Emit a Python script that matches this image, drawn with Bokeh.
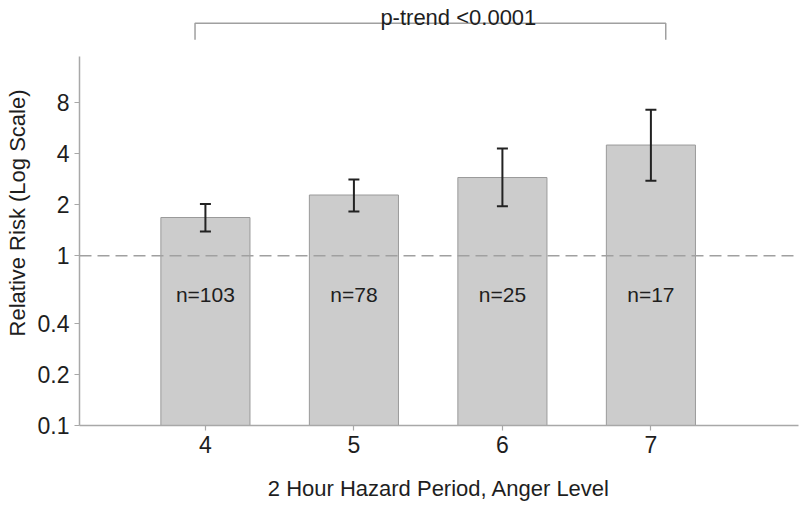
from bokeh.plotting import figure
from bokeh.models import ColumnDataSource, FixedTicker, Span, Whisker, TeeHead, Range1d
from bokeh.core.properties import value
from bokeh.embed import file_html
from bokeh.resources import INLINE

# ---- data ----
anger_levels = [4, 5, 6, 7]
relative_risk = [1.68, 2.28, 2.89, 4.49]
ci_lower = [1.39, 1.82, 1.96, 2.77]
ci_upper = [2.02, 2.81, 4.29, 7.25]
n_labels = ["n=103", "n=78", "n=25", "n=17"]
y_ticks = [0.1, 0.2, 0.4, 1, 2, 4, 8]
y_tick_labels = ["0.1", "0.2", "0.4", "1", "2", "4", "8"]
x_ticks = [4, 5, 6, 7]
x_tick_labels = ["4", "5", "6", "7"]
trend_text = "p-trend  <0.0001"
x_title = "2 Hour Hazard Period, Anger Level"
y_title = "Relative Risk (Log Scale)"

# ---- layout / style constants ----
FONT = "Liberation Sans"
TXT = "#1e1e1e"
AXC = "#a8a8a8"
n_label_y = 0.59
bracket_top = 23.4
bracket_bottom = 18.7
trend_y = 25.2
trend_x = 5.724

src = ColumnDataSource(dict(x=anger_levels, rr=relative_risk, lo=ci_lower,
                            hi=ci_upper, n=n_labels))

p = figure(width=800, height=509, output_backend="svg", toolbar_location=None,
           y_axis_type="log", x_range=Range1d(3.152, 7.994),
           y_range=Range1d(0.1, 31.9),
           min_border_left=79, min_border_right=2, min_border_top=0,
           min_border_bottom=84)
p.xgrid.visible = False
p.ygrid.visible = False
p.outline_line_color = None
p.background_fill_color = "white"
p.border_fill_color = "white"

p.vbar(x="x", top="rr", bottom=0.1, width=0.6, source=src,
       fill_color="#cccccc", line_color="#9a9a9a", line_width=1)

ref = Span(location=1, dimension="width", line_color="#a0a0a0",
           line_dash="12 6", line_width=1.5)
p.add_layout(ref)

wh = Whisker(base="x", upper="hi", lower="lo", source=src,
             line_color="#222222", line_width=2, level="overlay",
             upper_head=TeeHead(size=11, line_color="#222222", line_width=2),
             lower_head=TeeHead(size=11, line_color="#222222", line_width=2))
p.add_layout(wh)

p.text(x="x", y=n_label_y, text="n", source=src, text_align="center",
       text_baseline="middle", text_font=value(FONT), text_font_size="21px",
       text_color=TXT)

# trend bracket
xl = anger_levels[0] - 0.07
xr = anger_levels[-1] + 0.1
p.line(x=[xl, xl, xr, xr], y=[bracket_bottom, bracket_top, bracket_top, bracket_bottom],
       line_color="#a0a0a0", line_width=1.5)
p.text(x=[trend_x], y=[trend_y], text=[trend_text], text_align="center",
       text_baseline="alphabetic", text_font=value(FONT), text_font_size="22px",
       text_color=TXT)

# axes
for ax in (p.xaxis[0], p.yaxis[0]):
    ax.axis_line_color = AXC
    ax.axis_line_width = 1.5
    ax.major_tick_line_color = AXC
    ax.major_tick_line_width = 1.2
    ax.major_tick_out = 5
    ax.major_tick_in = 0
    ax.minor_tick_line_color = None
    ax.major_label_text_font = FONT
    ax.major_label_text_font_size = "23px"
    ax.major_label_text_color = TXT
    ax.axis_label_text_font = FONT
    ax.axis_label_text_font_size = "22px"
    ax.axis_label_text_font_style = "normal"
    ax.axis_label_text_color = TXT
    ax.major_label_standoff = 5

p.yaxis.ticker = FixedTicker(ticks=y_ticks, minor_ticks=[])
p.yaxis.major_label_overrides = dict(zip(y_ticks, y_tick_labels))
p.yaxis.bounds = (0.1, 14.9)
p.yaxis.axis_label = y_title
p.yaxis.axis_label_standoff = 5

p.xaxis.ticker = FixedTicker(ticks=x_ticks, minor_ticks=[])
p.xaxis.major_label_overrides = dict(zip(x_ticks, x_tick_labels))
p.xaxis.axis_label = x_title
p.xaxis.axis_label_standoff = 20

open("out.html", "w").write(file_html(p, INLINE))
